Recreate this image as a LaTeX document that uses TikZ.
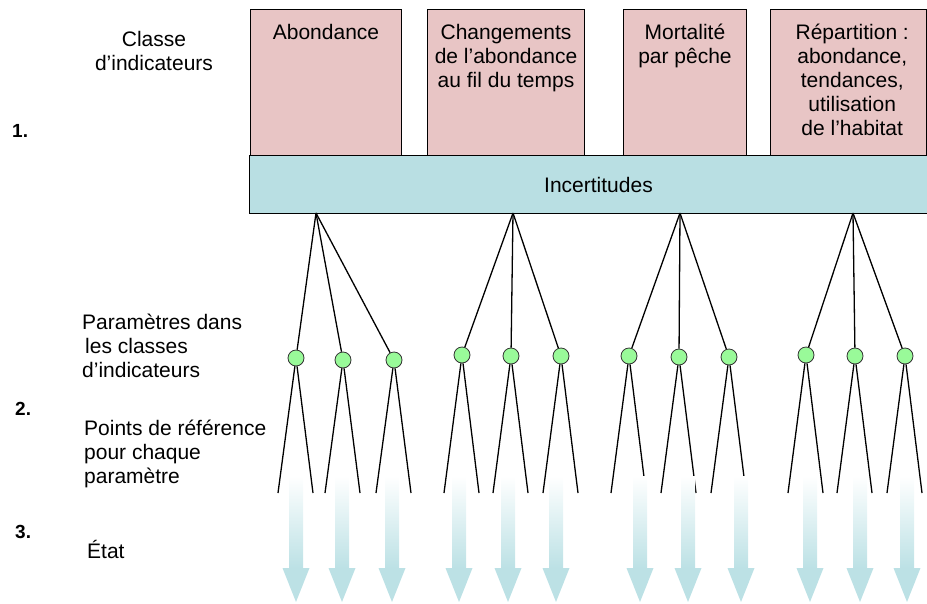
\documentclass[tikz,border=0pt]{standalone}
\usepackage{fontspec}
\setmainfont{Liberation Sans}
\usetikzlibrary{positioning}

\definecolor{clspink}{RGB}{232,197,197}
\definecolor{uncteal}{RGB}{185,223,227}
\definecolor{arrteal}{RGB}{188,225,229}
\definecolor{prmgreen}{RGB}{153,250,153}

\begin{document}
\begin{tikzpicture}[
            x = 1pt, y = -1pt,
every node/.style = {font=\fontsize{21}{24}\selectfont, inner sep=0pt},
       cls/.style = {draw, line width=1pt, fill=clspink, anchor=north west,
                     minimum height=146pt, minimum width=#1},
    clstxt/.style = {below=15pt of #1, align=center},
       unc/.style = {draw, line width=1pt, fill=uncteal, anchor=north west,
                     minimum height=58pt, minimum width=698pt},
       prm/.style = {circle, draw=black!80, line width=0.8pt, fill=prmgreen,
                     minimum size=16pt},
       brn/.style = {line width=1.3pt},
       num/.style = {anchor=base west, font=\fontsize{19}{20}\selectfont\bfseries},
       lbl/.style = {anchor=north west, align=left}
                        ]
\useasboundingbox (0,0) rectangle (927,603);
%
% classes d'indicateurs
\node (abond)  [cls=151pt]   at (250,9) {};
\node (chang)  [cls=157pt]   at (427,9) {};
\node (mort)   [cls=123pt]   at (623,9) {};
\node (repart) [cls=155.5pt] at (770,9) {};
\node [clstxt=abond.north] {Abondance};
\node [clstxt=chang.north] {Changements\\de l’abondance\\au fil du temps};
\node [clstxt=mort.north]  {Mortalité\\par pêche};
\node [clstxt=repart.north, xshift=4pt]
      {Répartition~:\\abondance,\\tendances,\\utilisation\\de l’habitat};
\node (incert) [unc] at (249,155) {Incertitudes};
%
% textes a gauche
\node (cltitle) [anchor=north, align=center] at (154,31) {Classe\\d’indicateurs};
\node (n1) [num] at (12,137) {1.};
\node (prmtitle) [lbl] at (82,314)
      {Paramètres dans\\\hspace{3pt}les classes\\d’indicateurs};
\node (n2) [num] at (15,415) {2.};
\node (reftitle) [lbl] at (84,420) {Points de référence\\pour chaque\\paramètre};
\node (n3) [num] at (15,538) {3.};
\node (etat) [anchor=base west] at (87,558) {État};
%
% arbres
\coordinate (r1) at (316,213);
\coordinate (r2) at (513,213);
\coordinate (r3) at (680,213);
\coordinate (r4) at (853,213);
\foreach \n/\r/\x/\y/\ax in {
    11/1/296/358/296, 12/1/343/360/342, 13/1/394/360/392,
    21/2/462/355/459, 22/2/511/356/508, 23/2/561/356/556,
    31/3/629/356/640, 32/3/679/357/688, 33/3/729/357/741,
    41/4/806/355/810, 42/4/855/356/860, 43/4/905/356/907}
{
    \node (p\n) [prm] at (\x,\y) {};
    \coordinate (la\n) at (\x-18,493);
    \coordinate (lb\n) at (\x+17,493);
    \draw[brn] (r\r) -- (p\n);
    \draw[brn] (la\n) -- (p\n) -- (lb\n);
    % etat
    \shade[top color=white, bottom color=arrteal]
          (\ax-7,476) rectangle (\ax+7,568);
    \fill[arrteal] (\ax-13.5,568) -- (\ax+13.5,568) -- (\ax,602) -- cycle;
}
\end{tikzpicture}
\end{document}
